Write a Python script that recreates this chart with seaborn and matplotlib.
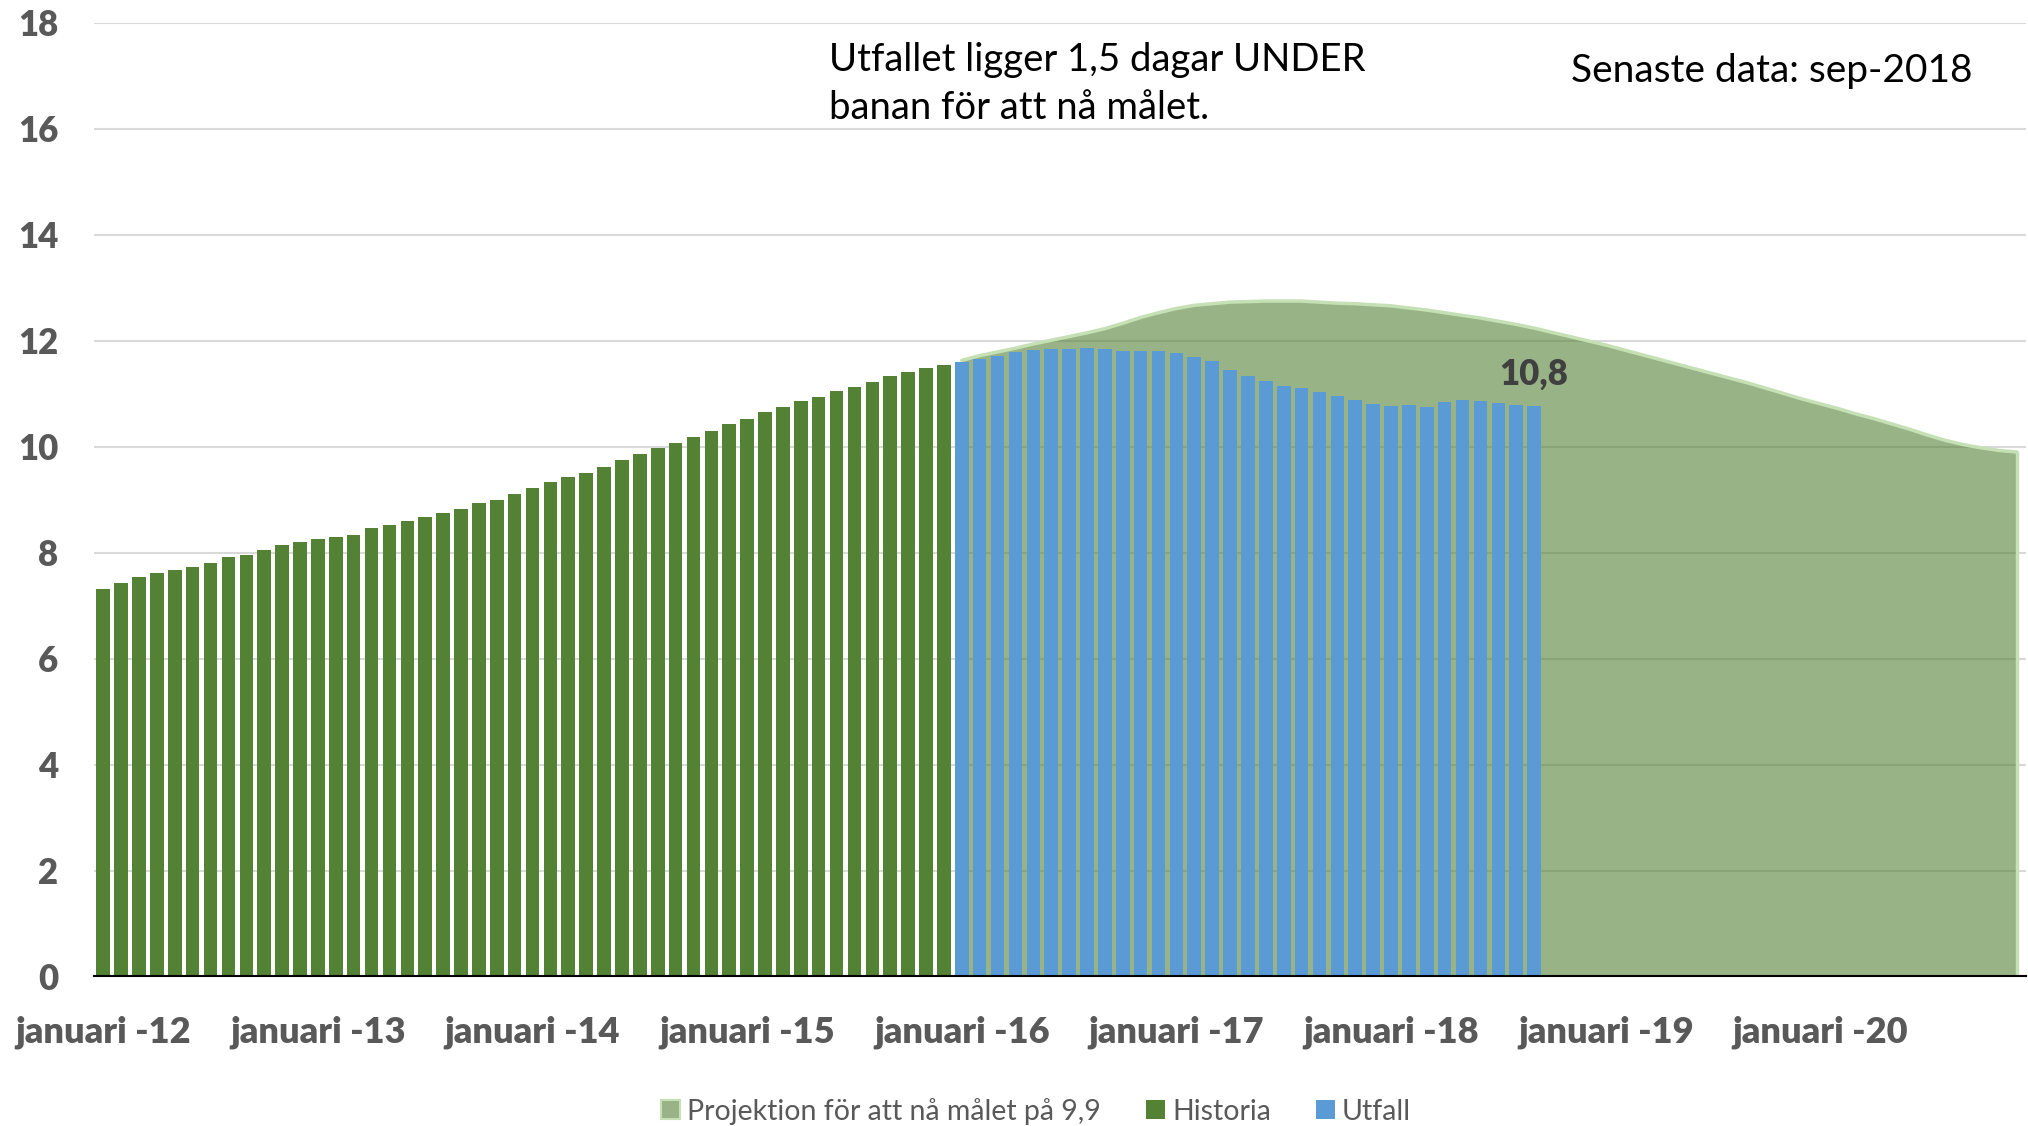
import numpy as np
import pandas as pd
import seaborn as sns
import matplotlib.pyplot as plt
from matplotlib.patches import Patch

# monthly categories jan 2012 - dec 2020
months = ['%d-%02d' % (y, m) for y in range(2012, 2021) for m in range(1, 13)]
year_labels = ['januari -12', 'januari -13', 'januari -14', 'januari -15', 'januari -16',
               'januari -17', 'januari -18', 'januari -19', 'januari -20']

# jan 2012 - dec 2015
historia = [7.32, 7.43, 7.54, 7.61, 7.67, 7.73, 7.80, 7.91, 7.96, 8.05, 8.14, 8.20,
            8.25, 8.29, 8.33, 8.47, 8.52, 8.60, 8.67, 8.74, 8.82, 8.93, 9.00, 9.11,
            9.23, 9.34, 9.43, 9.51, 9.62, 9.75, 9.86, 9.97, 10.08, 10.18, 10.29, 10.42,
            10.52, 10.65, 10.75, 10.86, 10.93, 11.06, 11.13, 11.22, 11.33, 11.41, 11.48, 11.54]
# jan 2016 - sep 2018
utfall = [11.60, 11.66, 11.72, 11.78, 11.83, 11.85, 11.85, 11.86, 11.85, 11.81, 11.81, 11.80,
          11.77, 11.70, 11.62, 11.44, 11.34, 11.24, 11.15, 11.10, 11.03, 10.96, 10.88, 10.80,
          10.77, 10.78, 10.75, 10.84, 10.88, 10.86, 10.83, 10.79, 10.76]
# jan 2016 - dec 2020
projektion = [11.63, 11.72, 11.79, 11.86, 11.94, 12.01, 12.08, 12.15, 12.23, 12.33, 12.44, 12.53,
              12.61, 12.67, 12.70, 12.73, 12.74, 12.75, 12.75, 12.75, 12.73, 12.71, 12.70, 12.68,
              12.66, 12.62, 12.58, 12.53, 12.48, 12.43, 12.37, 12.31, 12.24, 12.16, 12.08, 12.00,
              11.92, 11.83, 11.74, 11.65, 11.56, 11.47, 11.38, 11.29, 11.20, 11.10, 11.00, 10.90,
              10.81, 10.72, 10.62, 10.53, 10.43, 10.33, 10.22, 10.12, 10.04, 9.98, 9.93, 9.90]

df_hist = pd.DataFrame({'month': months[:48], 'value': historia})
df_utf = pd.DataFrame({'month': months[48:48 + len(utfall)], 'value': utfall})
proj_pos = np.arange(48, 48 + len(projektion))

sns.set_theme(style='white')
plt.rcParams['font.family'] = ['Lato', 'DejaVu Sans']

c_hist = '#548235'
c_utf = '#5b9bd5'
c_edge = '#c5e0b4'
grey = '#595959'

fig, ax = plt.subplots(figsize=(20.28, 11.26), dpi=100)
fig.subplots_adjust(left=0.0465, right=0.999, bottom=0.1328, top=0.9796)

ax.fill_between(proj_pos, 0, projektion, color=c_hist, alpha=0.6, lw=0, zorder=1)
sns.lineplot(x=proj_pos, y=projektion, ax=ax, color=c_edge, lw=2.5, zorder=1.5)
ax.vlines(proj_pos[-1], 0, projektion[-1], color=c_edge, lw=2.5, zorder=1.5)

sns.barplot(data=df_hist, x='month', y='value', order=months, color=c_hist,
            saturation=1, width=0.76, errorbar=None, lw=0, ax=ax, zorder=3)
sns.barplot(data=df_utf, x='month', y='value', order=months, color=c_utf,
            saturation=1, width=0.76, errorbar=None, lw=0, ax=ax, zorder=3)

ax.annotate('10,8', xy=(len(historia) + len(utfall) - 1, utfall[-1]), xytext=(0, 11),
            textcoords='offset points', ha='center', va='bottom',
            fontsize=25, fontweight='heavy', color='#404040', zorder=5)

ax.set_xlim(-0.5, 107.5)
ax.set_ylim(0, 18)
ax.set_yticks(range(0, 19, 2))
ax.set_xticks(range(0, 108, 12), labels=year_labels)
ax.set_xticks(np.arange(-0.5, 108, 12), minor=True)
ax.set_xlabel('')
ax.set_ylabel('')
ax.yaxis.grid(True, color='#d9d9d9', lw=1.5)
ax.set_axisbelow(True)
for s in ['left', 'top', 'right']:
    ax.spines[s].set_visible(False)
ax.spines['bottom'].set_color('black')
ax.spines['bottom'].set_linewidth(1.5)
ax.spines['bottom'].set_zorder(4)
ax.tick_params(axis='x', which='major', length=0, pad=28, labelsize=26, labelcolor=grey)
ax.tick_params(axis='x', which='minor', length=13, width=1.5, color='black', direction='out')
ax.tick_params(axis='y', length=0, pad=26, labelsize=25, labelcolor=grey)
for lab in ax.get_xticklabels() + ax.get_yticklabels():
    lab.set_fontweight('heavy')

fig.text(829 / 2028, 1 - 42 / 1126, 'Utfallet ligger 1,5 dagar UNDER\nbanan för att nå målet.',
         ha='left', va='top', fontsize=27.5, color='black', linespacing=1.42)
fig.text(1571 / 2028, 1 - 53 / 1126, 'Senaste data: sep-2018',
         ha='left', va='top', fontsize=28, color='black')

handles = [Patch(facecolor='#98b486', edgecolor=c_edge, lw=1.5),
           Patch(facecolor=c_hist, lw=0),
           Patch(facecolor=c_utf, lw=0)]
fig.legend(handles, ['Projektion för att nå målet på 9,9', 'Historia', 'Utfall'],
           loc='center', bbox_to_anchor=(0.511, 0.0133), ncol=3, frameon=False,
           fontsize=20.5, labelcolor=grey, handlelength=0.65, handleheight=0.65,
           handletextpad=0.25, columnspacing=1.6)

fig.savefig('out.png', dpi=100)
plt.close('all')
